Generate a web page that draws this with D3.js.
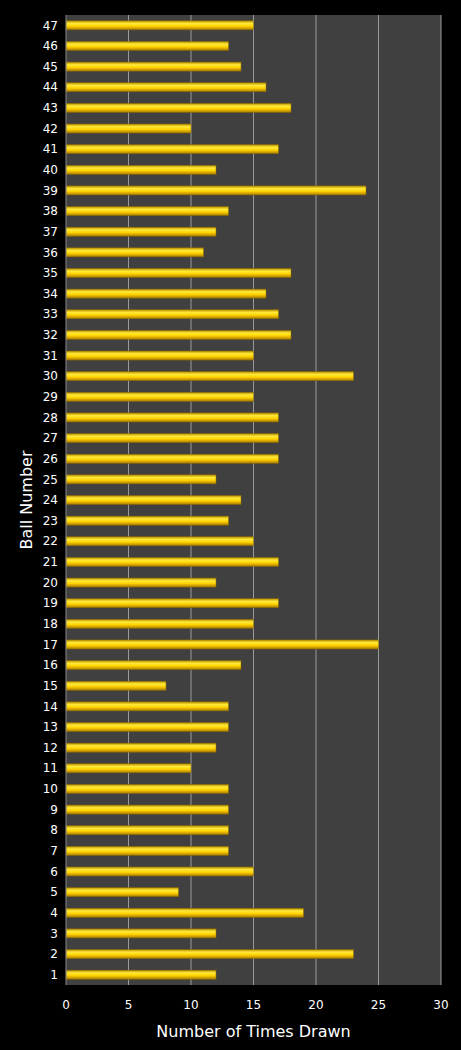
<!DOCTYPE html>
<meta charset="utf-8">
<style>
body { margin: 0; background: #000; }
svg text { font-family: "DejaVu Sans", Verdana, sans-serif; fill: #fff; }
</style>
<body>
<div id="chart"></div>
<script src="https://d3js.org/d3.v7.min.js"></script>
<script>
var balls = d3.range(1, 48).map(String);
var counts = [12, 23, 12, 19, 9, 15, 13, 13, 13, 13, 10, 12, 13, 13, 8, 14, 25, 15, 17, 12,
  17, 15, 13, 14, 12, 17, 17, 17, 15, 23, 15, 18, 17, 16, 18, 11, 12, 13, 24, 12,
  17, 10, 18, 16, 14, 13, 15];
var xTicks = [0, 5, 10, 15, 20, 25, 30];

var width = 461, height = 1050;
var margin = { top: 15, right: 20, bottom: 65, left: 66 };

var svg = d3.select('#chart').append('svg')
  .attr('width', width).attr('height', height);

var defs = svg.append('defs');
var grad = defs.append('linearGradient').attr('id', 'bar')
  .attr('x1', 0).attr('y1', 0).attr('x2', 0).attr('y2', 1);
grad.append('stop').attr('offset', '0%').attr('stop-color', '#b88f00');
grad.append('stop').attr('offset', '30%').attr('stop-color', '#ffea3a');
grad.append('stop').attr('offset', '60%').attr('stop-color', '#ffd200');
grad.append('stop').attr('offset', '100%').attr('stop-color', '#a87a00');

var x = d3.scaleLinear().domain([0, 30]).range([margin.left, width - margin.right]);
var y = d3.scaleBand().domain(balls.slice().reverse())
  .range([margin.top, height - margin.bottom]).paddingInner(0.56).paddingOuter(0.28);

svg.append('rect')
  .attr('x', x(0)).attr('y', margin.top)
  .attr('width', x(30) - x(0)).attr('height', height - margin.bottom - margin.top)
  .attr('fill', '#404040');

svg.append('g').selectAll('line').data(xTicks.slice(1)).enter().append('line')
  .attr('x1', d => x(d)).attr('x2', d => x(d))
  .attr('y1', margin.top).attr('y2', height - margin.bottom)
  .attr('stroke', '#9a9a9a').attr('stroke-width', 1);

svg.append('g').selectAll('rect').data(counts).enter().append('rect')
  .attr('x', x(0))
  .attr('y', (d, i) => y(balls[i]))
  .attr('width', d => x(d) - x(0))
  .attr('height', y.bandwidth())
  .attr('fill', 'url(#bar)')
  .attr('stroke', '#8a6a00').attr('stroke-width', 0.5);

svg.append('line')
  .attr('x1', x(0)).attr('x2', x(0))
  .attr('y1', margin.top).attr('y2', height - margin.bottom)
  .attr('stroke', '#888');

svg.append('g').selectAll('text').data(balls).enter().append('text')
  .attr('x', x(0) - 8).attr('y', d => y(d) + y.bandwidth() / 2)
  .attr('dy', '0.35em').attr('text-anchor', 'end')
  .attr('font-size', 12).text(d => d);

svg.append('g').selectAll('text').data(xTicks).enter().append('text')
  .attr('x', d => x(d)).attr('y', height - margin.bottom + 24)
  .attr('text-anchor', 'middle').attr('font-size', 12).text(d => d);

svg.append('text')
  .attr('x', (x(0) + x(30)) / 2).attr('y', height - 13)
  .attr('text-anchor', 'middle').attr('font-size', 16)
  .text('Number of Times Drawn');

svg.append('text')
  .attr('transform', 'translate(32,' + ((margin.top + height - margin.bottom) / 2) + ') rotate(-90)')
  .attr('text-anchor', 'middle').attr('font-size', 16)
  .text('Ball Number');
</script>
</body>
